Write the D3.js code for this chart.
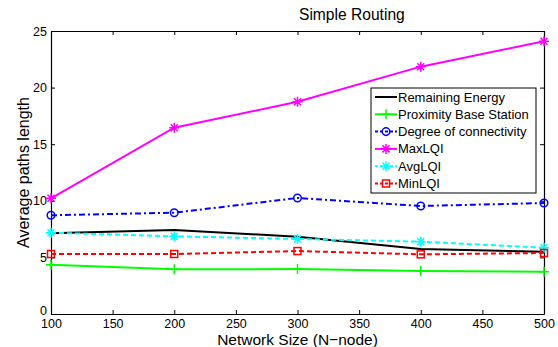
<!DOCTYPE html>
<html>
<head>
<meta charset="utf-8">
<script src="https://cdn.jsdelivr.net/npm/d3@7"></script>
<style>
  body { margin: 0; background: #fff; }
  text { font-family: "Liberation Sans", Arial, sans-serif; fill: #000; }
</style>
</head>
<body>
<svg id="chart" width="558" height="347"></svg>
<script>
const nodes = [100, 200, 300, 400, 500];
const remainingEnergy = [7.13, 7.42, 6.83, 5.74, 5.5];
const proximityBS = [4.36, 3.95, 3.97, 3.8, 3.74];
const degreeConn = [8.72, 8.95, 10.25, 9.54, 9.8];
const maxLQI = [10.22, 16.46, 18.75, 21.85, 24.09];
const avgLQI = [7.18, 6.86, 6.63, 6.39, 5.86];
const minLQI = [5.3, 5.3, 5.56, 5.27, 5.39];
const xTicks = [100, 150, 200, 250, 300, 350, 400, 450, 500];
const yTicks = [0, 5, 10, 15, 20, 25];

const series = [
  { name: "Remaining Energy", values: remainingEnergy, color: "#000000", dash: null, marker: "none" },
  { name: "Proximity Base Station", values: proximityBS, color: "#00ff00", dash: null, marker: "plus" },
  { name: "Degree of connectivity", values: degreeConn, color: "#0000ff", dash: "6,3,2,3", marker: "circle" },
  { name: "MaxLQI", values: maxLQI, color: "#ff00ff", dash: null, marker: "star" },
  { name: "AvgLQI", values: avgLQI, color: "#00ffff", dash: "5,3", marker: "star" },
  { name: "MinLQI", values: minLQI, color: "#ff0000", dash: "5,3", marker: "square" }
];

const svg = d3.select("#chart");
const margin = { top: 31, right: 14, bottom: 33, left: 51 };
const W = 558, H = 347;

const x = d3.scaleLinear().domain([100, 500]).range([margin.left, W - margin.right]);
const y = d3.scaleLinear().domain([0, 25]).range([H - margin.bottom, margin.top]);

// axes box, ticks point inward
svg.append("g")
  .attr("transform", `translate(0,${H - margin.bottom})`)
  .call(d3.axisBottom(x).tickValues(xTicks).tickSizeInner(-4).tickSizeOuter(0).tickPadding(5))
  .call(g => g.selectAll("text").attr("font-size", 12.5));
svg.append("g")
  .attr("transform", `translate(0,${margin.top})`)
  .call(d3.axisTop(x).tickValues(xTicks).tickSizeInner(-4).tickSizeOuter(0).tickFormat(""));
svg.append("g")
  .attr("transform", `translate(${margin.left},0)`)
  .call(d3.axisLeft(y).tickValues(yTicks).tickSizeInner(-4).tickSizeOuter(0).tickPadding(4))
  .call(g => g.selectAll("text").attr("font-size", 12.5))
  .call(g => g.selectAll(".tick").filter(d => d === 0).select("text").attr("dy", "0.02em"));
svg.append("g")
  .attr("transform", `translate(${W - margin.right},0)`)
  .call(d3.axisRight(y).tickValues(yTicks).tickSizeInner(-4).tickSizeOuter(0).tickFormat(""));
svg.selectAll(".domain").attr("stroke", "#000").attr("stroke-width", 1.2);
svg.selectAll(".tick line").attr("stroke", "#000");
svg.selectAll(".tick text").attr("font-family", "Liberation Sans, Arial, sans-serif");

const line = d3.line().x((d, i) => x(nodes[i])).y(d => y(d));

function drawMarker(g, type, color) {
  if (type === "plus") {
    g.append("path").attr("d", "M-5,0H5M0,-5V5").attr("stroke", color).attr("stroke-width", 1.5);
  } else if (type === "circle") {
    g.append("circle").attr("r", 3.8).attr("fill", "none").attr("stroke", color).attr("stroke-width", 1.5);
  } else if (type === "star") {
    g.append("path").attr("d", "M-5,0H5M0,-5V5M-3.5,-3.5L3.5,3.5M-3.5,3.5L3.5,-3.5")
      .attr("stroke", color).attr("stroke-width", 1.5);
  } else if (type === "square") {
    g.append("rect").attr("x", -3.5).attr("y", -3.5).attr("width", 7).attr("height", 7)
      .attr("fill", "none").attr("stroke", color).attr("stroke-width", 1.5);
  }
}

for (const s of series) {
  svg.append("path")
    .datum(s.values)
    .attr("fill", "none")
    .attr("stroke", s.color)
    .attr("stroke-width", 2)
    .attr("stroke-dasharray", s.dash)
    .attr("d", line);
  s.values.forEach((v, i) => {
    const g = svg.append("g").attr("transform", `translate(${x(nodes[i])},${y(v)})`);
    drawMarker(g, s.marker, s.color);
  });
}

// title and labels
svg.append("text").attr("x", 299).attr("y", 20).attr("font-size", 15.6).text("Simple Routing");
svg.append("text").attr("x", (margin.left + W - margin.right) / 2).attr("y", 345)
  .attr("text-anchor", "middle").attr("font-size", 15.5).text("Network Size (N\u2212node)");
svg.append("text")
  .attr("transform", `translate(29,${(margin.top + H - margin.bottom) / 2}) rotate(-90)`)
  .attr("text-anchor", "middle").attr("font-size", 16).text("Average paths length");

// legend
const legend = svg.append("g").attr("transform", "translate(371,88)");
legend.append("rect").attr("width", 165).attr("height", 105)
  .attr("fill", "#fff").attr("stroke", "#000").attr("stroke-width", 1);
series.forEach((s, i) => {
  const row = legend.append("g").attr("transform", `translate(0,${9 + i * 17.3})`);
  row.append("line").attr("x1", 4).attr("x2", 26).attr("y1", 0).attr("y2", 0)
    .attr("stroke", s.color).attr("stroke-width", 2).attr("stroke-dasharray", s.dash ? "3,2" : null);
  const m = row.append("g").attr("transform", "translate(15,0)");
  drawMarker(m, s.marker, s.color);
  row.append("text").attr("x", 27).attr("y", 4.5).attr("font-size", 13).text(s.name);
});
</script>
</body>
</html>
